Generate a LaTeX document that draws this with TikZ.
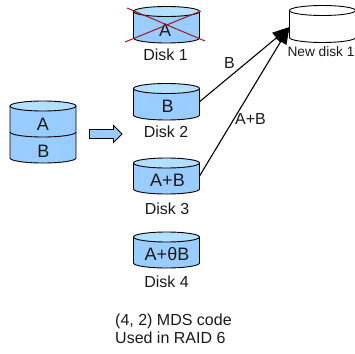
\documentclass[tikz,border=0pt]{standalone}
\usepackage{fontspec}
\setmainfont{Liberation Sans}
\usetikzlibrary{arrows.meta}
\definecolor{diskblue}{HTML}{99CCFF}
\definecolor{disktop}{HTML}{B3E0FF}
\definecolor{crossred}{HTML}{A01A1A}
\definecolor{ink}{HTML}{1A1A1A}
\newcommand{\diskshape}[5]{% name, cx, top y, bottom y, fill
  \node[diskbox,minimum height={(#4-#3)*1pt}] (#1) at (#2,{(#3+#4)/2}) {};
  \fill[#5] (#2-33,#3+5) -- (#2+33,#3+5) -- (#2+33,#4-5)
     arc[start angle=0,end angle=180,x radius=33,y radius=5] -- cycle;
}
\newcommand{\diskoutline}[3]{% cx, top y, bottom y
  \draw[diskline] (#1-33,#2+5) -- (#1-33,#3-5) arc[start angle=180,end angle=0,x radius=33,y radius=5] -- (#1+33,#2+5);
  \draw[diskline] (#1,#2+5) ellipse[x radius=33,y radius=5];
}
\tikzset{
  x=1pt,y=-1pt,
  diskbox/.style={rectangle,minimum width=66pt,inner sep=0pt,outer sep=0pt},
  diskline/.style={draw=black,line width=0.9pt},
  lab/.style={font=\fontsize{16}{18}\selectfont,text=ink,inner sep=0pt},
  inlab/.style={font=\fontsize{18}{20}\selectfont,text=ink,inner sep=0pt},
  conn/.style={draw=black,line width=1.1pt,-{Triangle[length=17pt,width=13pt]},shorten >=0pt},
}
\begin{document}
\begin{tikzpicture}
\useasboundingbox (0,0) rectangle (355,353);
% Disk 1
\diskshape{d1}{166.5}{6.5}{43}{diskblue}
\fill[disktop] (166.5,11.5) ellipse[x radius=33,y radius=5];
\diskoutline{166.5}{6.5}{43}
\node[inlab] (ta) at (165,30) {A};
\node[lab] (l1) at (165.5,55) {Disk 1};
\coordinate (xa) at (127,8); \coordinate (xb) at (205,41);
\coordinate (xc) at (125,42); \coordinate (xd) at (201,11);
\draw[crossred,line width=1pt] (xa) -- (xb) (xc) -- (xd);
% Disk 2
\diskshape{d2}{166.5}{83.5}{120}{diskblue}
\fill[disktop] (166.5,88.5) ellipse[x radius=33,y radius=5];
\diskoutline{166.5}{83.5}{120}
\node[inlab] (tb) at (167.5,106) {B};
\node[lab] (l2) at (166,131.5) {Disk 2};
% Disk 3
\diskshape{d3}{166.5}{158}{194}{diskblue}
\fill[disktop] (166.5,163) ellipse[x radius=33,y radius=5];
\diskoutline{166.5}{158}{194}
\node[inlab] (tab) at (167.5,180) {A+B};
\node[lab] (l3) at (167,208.5) {Disk 3};
% Disk 4
\diskshape{d4}{166.5}{232}{268}{diskblue}
\fill[disktop] (166.5,237) ellipse[x radius=33,y radius=5];
\diskoutline{166.5}{232}{268}
\node[inlab] (tt) at (167,254) {A+θB};
\node[lab] (l4) at (166.5,281.5) {Disk 4};
% Source disk
\diskshape{src}{43}{101}{163}{diskblue}
\fill[disktop] (43,106) ellipse[x radius=33,y radius=5];
\diskoutline{43}{101}{163}
\draw[diskline] (10,132) arc[start angle=180,end angle=0,x radius=33,y radius=5];
\node[inlab] (sa) at (43,124) {A};
\node[inlab] (sb) at (43.5,151) {B};
% Block arrow
\draw[draw=black,fill=diskblue,line width=0.9pt] (89.5,129.5) -- (113.5,129.5) -- (113.5,125.5) -- (122,134) -- (113.5,142.5) -- (113.5,138.5) -- (89.5,138.5) -- cycle;
% New disk
\node[diskbox,minimum height=37pt] (nd) at (322.5,24) {};
\fill[white] (322.5,10.5) ellipse[x radius=33,y radius=5];
\diskoutline{322.5}{5.5}{42.5}
\node[lab,font=\fontsize{13.7}{15}\selectfont] (l5) at (321,52) {New disk 1};
% Connectors
\draw[conn] (d2.east) -- ([yshift=-3pt]nd.west);
\draw[conn] (d3.east) -- ([yshift=-3pt]nd.west);
\node[lab] (lb) at (229.5,63) {B};
\node[lab] (lab2) at (250.5,118.5) {A+B};
% Caption
\node[lab,align=left,anchor=north west,font=\fontsize{16}{17.5}\selectfont] (cap) at (115,314) {(4, 2) MDS code\\Used in RAID 6};
\end{tikzpicture}
\end{document}
